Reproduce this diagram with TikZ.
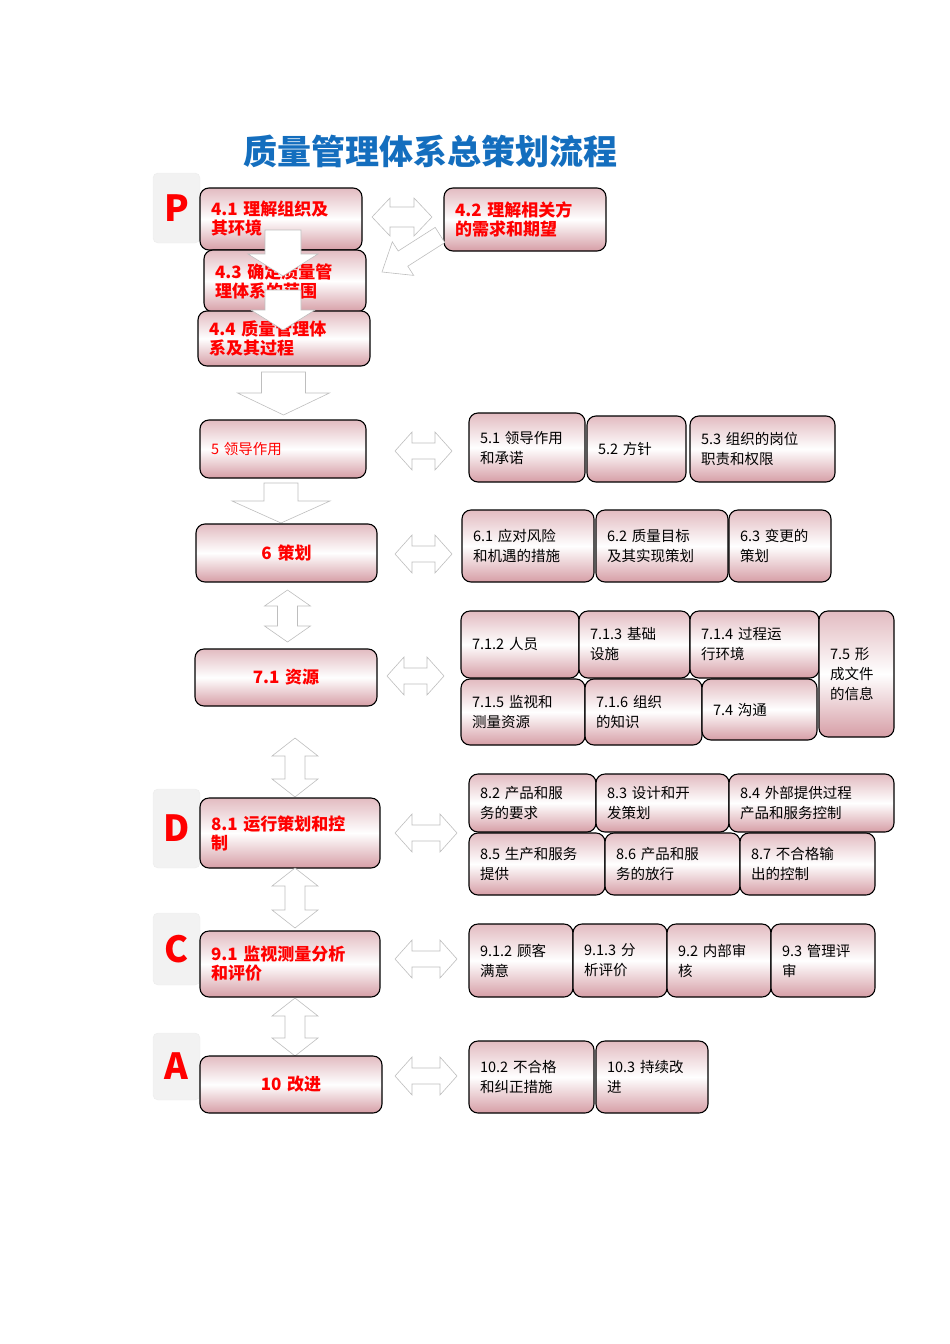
\documentclass[tikz,border=0pt]{standalone}
\usepackage{fontspec}
\setmainfont{Noto Sans CJK SC}
\definecolor{boxpink}{RGB}{214,158,166}
\definecolor{titleblue}{RGB}{20,110,190}
\definecolor{arrgray}{RGB}{190,190,190}
\tikzset{
  pbox/.style={draw=black, line width=1.1pt, rounded corners=9pt, top color=boxpink!70, bottom color=boxpink, middle color=white, inner sep=0pt},
  redtxt/.style={text=red, font=\bfseries\fontsize{17}{19}\selectfont, align=left},
  redc/.style={redtxt, align=center},
  redsmall/.style={text=red, font=\fontsize{14.5}{18}\selectfont, align=left},
  blktxt/.style={text=black, font=\fontsize{14.5}{20}\selectfont, align=left},
  phase/.style={fill=gray!10, draw=gray!15, rounded corners=5pt, text=red, font=\bfseries\fontsize{36}{36}\selectfont, inner sep=0pt},
  blockarrow/.style={draw=arrgray, fill=white, line width=0.6pt, line join=miter}
}
% \bx{name}{x1}{y1}{x2}{y2}{style}{text}
\newcommand\bx[7]{\node[pbox,#6,minimum width={(#4-#2)*1pt},minimum height={(#5-#3)*1pt},text width={(#4-#2-22)*1pt}] (#1) at ({(#2+#4)/2},{(#3+#5)/2}) {#7};}
\newcommand\dnarr[6]{\draw[blockarrow] ({#1-#4},#2) -- ({#1+#4},#2) -- ({#1+#4},{#3-#6}) -- ({#1+#5},{#3-#6}) -- (#1,#3) -- ({#1-#5},{#3-#6}) -- ({#1-#4},{#3-#6}) -- cycle;}
\newcommand\hdarr[6]{\draw[blockarrow] (#1,#3) -- ({#1+#6},{#3-#5}) -- ({#1+#6},{#3-#4}) -- ({#2-#6},{#3-#4}) -- ({#2-#6},{#3-#5}) -- (#2,#3) -- ({#2-#6},{#3+#5}) -- ({#2-#6},{#3+#4}) -- ({#1+#6},{#3+#4}) -- ({#1+#6},{#3+#5}) -- cycle;}
\newcommand\vdarr[6]{\draw[blockarrow] (#1,#2) -- ({#1+#5},{#2+#6}) -- ({#1+#4},{#2+#6}) -- ({#1+#4},{#3-#6}) -- ({#1+#5},{#3-#6}) -- (#1,#3) -- ({#1-#5},{#3-#6}) -- ({#1-#4},{#3-#6}) -- ({#1-#4},{#2+#6}) -- ({#1-#5},{#2+#6}) -- cycle;}
\begin{document}
\begin{tikzpicture}[x=1pt,y=-1pt]
\useasboundingbox (0,0) rectangle (950,1344);
\node[text=titleblue, font=\bfseries\fontsize{34}{36}\selectfont] (title) at (430,151) {质量管理体系总策划流程};

\node[phase, minimum width=47pt, minimum height=70pt] (P) at (176.5,208) {P};
\node[phase, minimum width=47pt, minimum height=79pt] (D) at (176.5,828.5) {D};
\node[phase, minimum width=47pt, minimum height=72pt] (C) at (176.5,949) {C};
\node[phase, minimum width=47pt, minimum height=67pt] (A) at (176.5,1066.5) {A};

\bx{b41}{200}{188}{362}{250}{redtxt}{4.1 理解组织及\\其环境}
\bx{b42}{444}{188}{606}{251}{redtxt}{4.2 理解相关方\\的需求和期望}
\bx{b43}{204}{250}{366}{312}{redtxt}{4.3 确定质量管\\理体系的范围}
\bx{b44}{198}{311}{370}{366}{redtxt}{4.4 质量管理体\\系及其过程}
\dnarr{283}{230}{276}{18}{35}{22}
\dnarr{283}{290}{330}{18}{32}{20}
\hdarr{372}{432}{217}{10}{19}{18}
\draw[blockarrow] (444.8,242.6) -- (407.8,266.2) -- (413.7,275.4) -- (382,272) -- (392.3,241.8) -- (398.2,251) -- (435.2,227.4) -- cycle;
\dnarr{283.5}{372}{415}{22}{46}{22}

\bx{b5}{200}{420}{366}{478}{redsmall}{5 领导作用}
\bx{b51}{469}{413}{585}{482}{blktxt}{5.1 领导作用\\和承诺}
\bx{b52}{587}{416}{686}{482}{blktxt}{5.2 方针}
\bx{b53}{690}{416}{835}{482}{blktxt}{5.3 组织的岗位\\职责和权限}
\hdarr{395}{452}{451}{8}{19}{17}
\dnarr{281}{483}{523}{17}{49}{22}

\bx{b6}{196}{524}{377}{582}{redc}{6 策划}
\bx{b61}{462}{510}{594}{582}{blktxt}{6.1 应对风险\\和机遇的措施\\[6pt]}
\bx{b62}{596}{510}{728}{582}{blktxt}{6.2 质量目标\\及其实现策划\\[6pt]}
\bx{b63}{729}{510}{831}{582}{blktxt}{6.3 变更的\\策划}
\hdarr{395}{452}{554}{8}{19}{17}
\vdarr{287.5}{590}{642}{10}{23}{16}

\bx{b71}{195}{649}{377}{706}{redc}{7.1 资源}
\bx{b712}{461}{611}{579}{678}{blktxt}{7.1.2 人员}
\bx{b713}{579}{611}{690}{678}{blktxt}{7.1.3 基础\\设施}
\bx{b714}{690}{611}{819}{678}{blktxt}{7.1.4 过程运\\行环境}
\bx{b75}{819}{611}{894}{737}{blktxt}{7.5 形\\成文件\\的信息}
\bx{b715}{461}{679}{585}{745}{blktxt}{7.1.5 监视和\\测量资源}
\bx{b716}{585}{679}{702}{745}{blktxt}{7.1.6 组织\\的知识}
\bx{b74}{702}{679}{817}{740}{blktxt}{7.4 沟通\\[10pt]}
\hdarr{387}{444}{676}{8}{19}{17}
\vdarr{295}{738}{797}{10}{23}{18}

\bx{b81}{200}{798}{380}{868}{redtxt}{8.1 运行策划和控\\制}
\bx{b82}{469}{774}{596}{832}{blktxt}{8.2 产品和服\\务的要求}
\bx{b83}{596}{774}{729}{832}{blktxt}{8.3 设计和开\\发策划}
\bx{b84}{729}{774}{894}{832}{blktxt}{8.4 外部提供过程\\产品和服务控制}
\bx{b85}{469}{833}{605}{895}{blktxt}{8.5 生产和服务\\提供}
\bx{b86}{605}{833}{740}{895}{blktxt}{8.6 产品和服\\务的放行}
\bx{b87}{740}{833}{875}{895}{blktxt}{8.7 不合格输\\出的控制}
\hdarr{395}{457}{833}{8}{19}{17}
\vdarr{295}{868}{928}{10}{23}{18}

\bx{b91}{200}{931}{380}{997}{redtxt}{9.1 监视测量分析\\和评价}
\bx{b912}{469}{924}{573}{997}{blktxt}{9.1.2 顾客\\满意\\[4pt]}
\bx{b913}{573}{924}{667}{997}{blktxt}{9.1.3 分\\析评价\\[4pt]}
\bx{b92}{667}{924}{771}{997}{blktxt}{9.2 内部审\\核\\[4pt]}
\bx{b93}{771}{924}{875}{997}{blktxt}{9.3 管理评\\审\\[4pt]}
\hdarr{395}{457}{959}{8}{19}{17}
\vdarr{295}{998}{1056}{10}{23}{18}

\bx{b10}{200}{1056}{382}{1113}{redc}{10 改进}
\bx{b102}{469}{1041}{594}{1113}{blktxt}{10.2 不合格\\和纠正措施\\[6pt]}
\bx{b103}{596}{1041}{708}{1113}{blktxt}{10.3 持续改\\进}
\hdarr{395}{457}{1076}{8}{19}{17}
\end{tikzpicture}
\end{document}
